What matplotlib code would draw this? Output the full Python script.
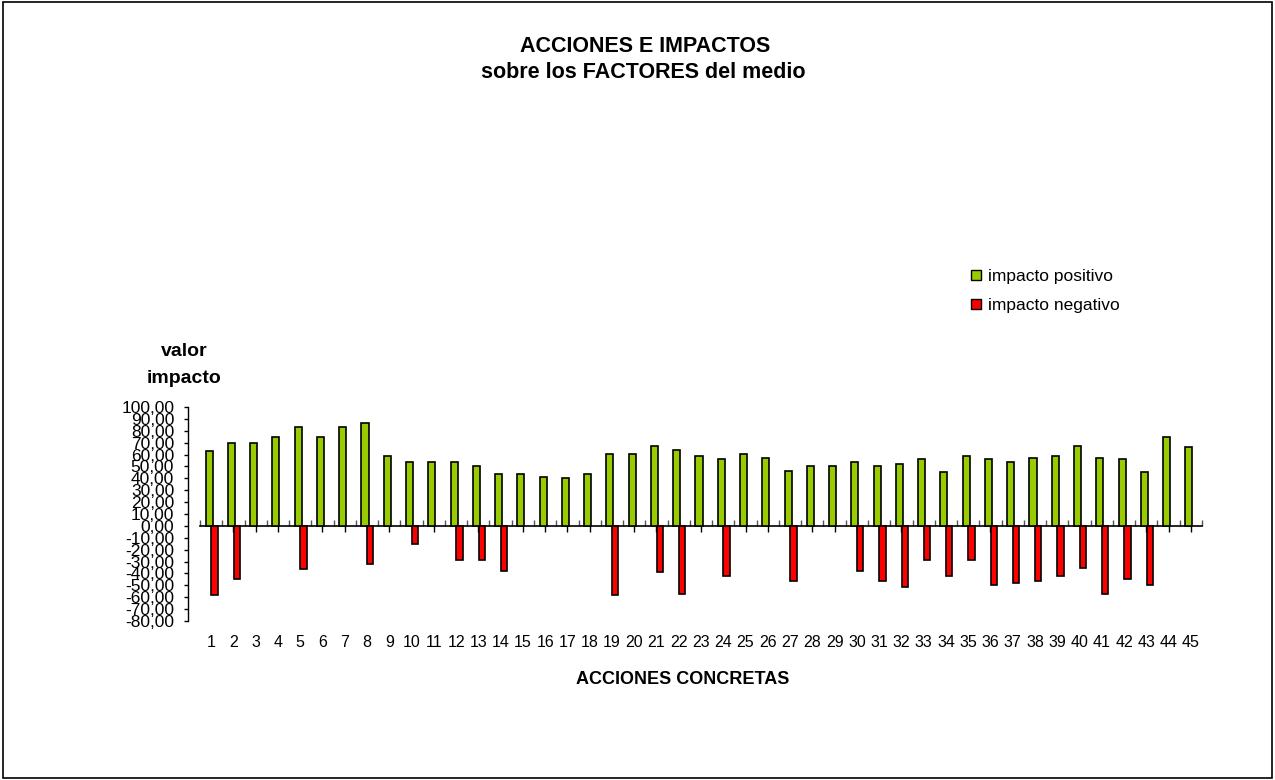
import numpy as np
import matplotlib
matplotlib.use("Agg")
import matplotlib.pyplot as plt
from matplotlib.patches import Patch, Rectangle
from matplotlib.ticker import FuncFormatter, MultipleLocator

plt.rcParams['font.family'] = ['Liberation Sans', 'DejaVu Sans']

acciones = list(range(1, 46))
positivo = [63, 69.5, 69.5, 75, 83.5, 75, 83.5, 86.5, 59, 53.5,
            53.5, 53.5, 50.5, 43.5, 43.5, 41.5, 40.5, 43.5, 60.5, 60.5,
            67.5, 63.5, 59, 56, 60.5, 57.5, 46.5, 50.5, 50.5, 53.5,
            50.5, 52, 56, 45, 59, 56, 53.5, 57.5, 59, 67.5,
            57.5, 56, 45, 75, 66.5]
negativo = [-58, -45, 0, 0, -36.5, 0, 0, -32, 0, -15,
            0, -29, -29, -38, 0, 0, 0, 0, -58.5, 0,
            -39, -57, 0, -42.5, 0, 0, -46.5, 0, 0, -38,
            -46.5, -51, -29, -42.5, -29, -49.5, -48, -46.5, -42.5, -35,
            -57, -45, -49.5, 0, 0]

W, H = 1275, 780
fig = plt.figure(figsize=(W / 100, H / 100), dpi=100)

# plot area in pixels
left, right, top, bottom = 200, 1202, 407, 621
ax = fig.add_axes([left / W, 1 - bottom / H, (right - left) / W, (bottom - top) / H])

x = np.array(acciones)
pos = np.array(positivo)
neg = np.array(negativo)
ax.bar(x - 0.09, pos, width=0.32, color='#99CC00', edgecolor='black', linewidth=1.2, zorder=2)
m = neg != 0
ax.bar(x[m] + 0.15, neg[m], width=0.28, color='#FF0000', edgecolor='black', linewidth=1.2, zorder=3)

ymin, ymax = -80, 100
ax.set_ylim(ymin, ymax)
ax.set_xlim(0.5, 45.5)

# y axis
ax.spines['left'].set_position(('outward', 8.6))
ax.spines['left'].set_linewidth(1)
ax.yaxis.set_major_locator(MultipleLocator(10))
ax.yaxis.set_major_formatter(FuncFormatter(lambda v, p: f"{v:.2f}".replace('.', ',')))
ax.tick_params(axis='y', length=3, width=1, pad=7, labelsize=12.5)

# x labels at bottom, no spine
for s in ['top', 'right', 'bottom']:
    ax.spines[s].set_visible(False)
ax.set_xticks(x)
ax.set_xticklabels([str(a) for a in acciones])
ax.tick_params(axis='x', length=0, pad=10, labelsize=11.5)

# axis line at zero
zero = (0 - ymin) / (ymax - ymin)
sec = ax.secondary_xaxis(zero)
sec.spines['bottom'].set_linewidth(1.2)
sec.set_xticks(x)
sec.set_xticks(np.arange(0.5, 46, 1), minor=True)
sec.tick_params(axis='x', which='major', direction='out', length=4, width=1, labelbottom=False)
sec.tick_params(axis='x', which='minor', direction='in', length=4, width=1, color='#555555')

fig.text(645 / W, 1 - 47 / H, "ACCIONES E IMPACTOS", ha='center', va='center',
         fontsize=15.5, fontweight='bold')
fig.text(643 / W, 1 - 72 / H, "sobre los FACTORES del medio", ha='center', va='center',
         fontsize=15.5, fontweight='bold')
fig.text(184 / W, 1 - 352 / H, "valor", ha='center', va='center', fontsize=14, fontweight='bold')
fig.text(184 / W, 1 - 378 / H, "impacto", ha='center', va='center', fontsize=14, fontweight='bold')
fig.text(683 / W, 1 - 680 / H, "ACCIONES CONCRETAS", ha='center', va='center',
         fontsize=13, fontweight='bold')

handles = [Patch(facecolor='#99CC00', edgecolor='black', label='impacto positivo'),
           Patch(facecolor='#FF0000', edgecolor='black', label='impacto negativo')]
fig.legend(handles=handles, loc='upper left', bbox_to_anchor=(971 / W, 1 - 269 / H),
           frameon=False, fontsize=12.5, handlelength=0.55, handleheight=0.55,
           handletextpad=0.45, labelspacing=0.8, borderaxespad=0, borderpad=0)

fig.patches.append(Rectangle((0.002, 0.003), 0.996, 0.994, transform=fig.transFigure,
                             fill=False, edgecolor='black', linewidth=1.2))

fig.savefig('out.png', dpi=100)
